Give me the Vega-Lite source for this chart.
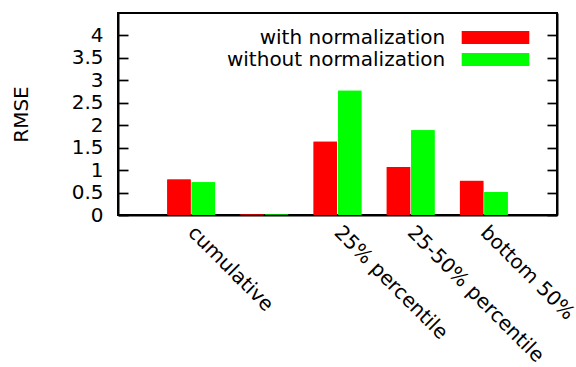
{
  "$schema": "https://vega.github.io/schema/vega-lite/v6.json",
  "width": 439,
  "height": 202,
  "autosize": {"type": "none"},
  "padding": {"left": 118, "top": 13, "right": 19, "bottom": 152},
  "config": {
    "font": "DejaVu Sans",
    "view": {"stroke": "black", "strokeWidth": 2},
    "axis": {
      "labelFont": "DejaVu Sans",
      "labelFontSize": 20,
      "labelColor": "black",
      "titleFont": "DejaVu Sans",
      "titleFontSize": 20,
      "titleFontWeight": "normal",
      "titleColor": "black",
      "domainColor": "black",
      "domainWidth": 2,
      "tickColor": "black",
      "tickWidth": 1.7,
      "grid": false,
      "zindex": 1
    }
  },
  "data": {
    "values": [
      {"category": "cumulative", "method": "with normalization", "rmse": 0.79},
      {"category": "cumulative", "method": "without normalization", "rmse": 0.73},
      {"category": " ", "method": "with normalization", "rmse": 0.01},
      {"category": " ", "method": "without normalization", "rmse": 0.01},
      {"category": "25% percentile", "method": "with normalization", "rmse": 1.63},
      {"category": "25% percentile", "method": "without normalization", "rmse": 2.77},
      {"category": "25-50% percentile", "method": "with normalization", "rmse": 1.07},
      {"category": "25-50% percentile", "method": "without normalization", "rmse": 1.89},
      {"category": "bottom 50%", "method": "with normalization", "rmse": 0.76},
      {"category": "bottom 50%", "method": "without normalization", "rmse": 0.51}
    ]
  },
  "encoding": {
    "x": {
      "field": "category",
      "type": "nominal",
      "sort": null,
      "scale": {"paddingInner": 0, "paddingOuter": 0.5},
      "axis": {
        "title": null,
        "labelAngle": 45,
        "labelAlign": "left",
        "labelBaseline": "middle",
        "ticks": false,
        "labelPadding": 14,
        "labelLimit": 300
      }
    },
    "xOffset": {
      "field": "method",
      "type": "nominal",
      "sort": null,
      "scale": {"paddingInner": 0.041, "paddingOuter": 0.52}
    },
    "color": {
      "field": "method",
      "type": "nominal",
      "sort": null,
      "scale": {
        "domain": ["with normalization", "without normalization"],
        "range": ["#ff0000", "#00ff00"]
      },
      "legend": {
        "orient": "none",
        "legendX": 367.5,
        "legendY": 14.5,
        "title": null,
        "symbolType": "M-5.2,-1L5.2,-1L5.2,1L-5.2,1Z",
        "symbolSize": 169,
        "symbolStrokeWidth": 0,
        "symbolOpacity": 1,
        "symbolOffset": 0,
        "rowPadding": 2,
        "padding": 0,
        "labelAlign": "right",
        "labelBaseline": "middle",
        "labelOffset": -60.3,
        "labelFont": "DejaVu Sans",
        "labelFontSize": 20,
        "labelColor": "black",
        "labelLimit": 400
      }
    }
  },
  "layer": [
    {
      "mark": {"type": "bar"},
      "encoding": {
        "y": {
          "field": "rmse",
          "type": "quantitative",
          "scale": {"domain": [0, 4.5], "nice": false},
          "axis": {
            "title": "RMSE",
            "values": [0, 0.5, 1, 1.5, 2, 2.5, 3, 3.5, 4],
            "format": "~g",
            "tickSize": -10,
            "labelPadding": 25,
            "titleAngle": -90,
            "titleX": -97,
            "titleY": 101,
            "titleAlign": "center",
            "titleBaseline": "middle"
          }
        }
      }
    },
    {
      "mark": {"type": "bar"},
      "encoding": {
        "y": {
          "field": "rmse",
          "type": "quantitative",
          "axis": {
            "orient": "right",
            "title": null,
            "labels": false,
            "values": [0, 0.5, 1, 1.5, 2, 2.5, 3, 3.5, 4],
            "tickSize": -10
          }
        }
      }
    }
  ],
  "resolve": {"axis": {"y": "independent"}}
}
